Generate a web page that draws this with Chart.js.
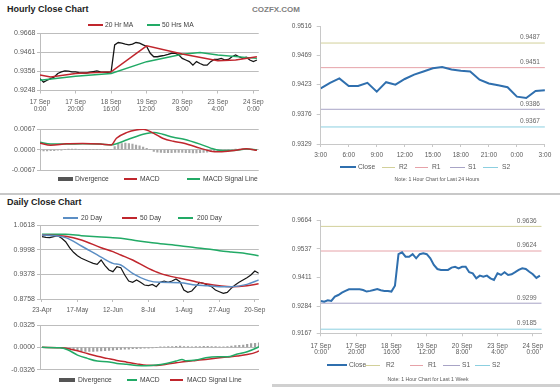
<!DOCTYPE html>
<html>
<head>
<meta charset="utf-8">
<script src="https://cdn.jsdelivr.net/npm/chart.js@4.4.1/dist/chart.umd.min.js"></script>
<style>
  body { margin: 0; background: #fff; width: 560px; height: 387px; overflow: hidden; position: relative;
         font-family: "Liberation Sans", Arial, sans-serif; }
  canvas, .t, .bar { position: absolute; }
  .t { white-space: nowrap; color: #404040; line-height: 1; }
</style>
</head>
<body>
<canvas id="c1" width="270" height="92" style="left:0;top:26px"></canvas>
<canvas id="c2" width="270" height="56" style="left:0;top:120px"></canvas>
<canvas id="c3" width="276" height="148" style="left:280px;top:14px"></canvas>
<canvas id="c4" width="270" height="102" style="left:0;top:214px"></canvas>
<canvas id="c5" width="270" height="60" style="left:0;top:316px"></canvas>
<canvas id="c6" width="276" height="150" style="left:280px;top:208px"></canvas>
<script>
// ---------- hourly close, last week (2-hour steps) ----------
const hourlyTickHours = [0, 20, 40, 60, 80, 100, 120];
const hourlyTickLabels = [['17 Sep', '0:00'], ['17 Sep', '20:00'], ['18 Sep', '16:00'], ['19 Sep', '12:00'],
                          ['20 Sep', '8:00'], ['23 Sep', '4:00'], ['24 Sep', '0:00']];
const hourlyPriceTicks = ['0.9248', '0.9356', '0.9461', '0.9668'];
const hourlyClose = [0.9313, 0.9294, 0.9304, 0.9313, 0.9322, 0.9341, 0.9350, 0.9355, 0.9354, 0.9350,
                     0.9350, 0.9346, 0.9344, 0.9344, 0.9348, 0.9352, 0.9355, 0.9350, 0.9348, 0.9348,
                     0.9350, 0.9498, 0.9511, 0.9507, 0.9502, 0.9498, 0.9502, 0.9511, 0.9507, 0.9498,
                     0.9489, 0.9452, 0.9433, 0.9433, 0.9437, 0.9441, 0.9446, 0.9452, 0.9452, 0.9443,
                     0.9424, 0.9415, 0.9406, 0.9387, 0.9406, 0.9396, 0.9387, 0.9387, 0.9406, 0.9418,
                     0.9418, 0.9424, 0.9415, 0.9418, 0.9433, 0.9443, 0.9433, 0.9424, 0.9430, 0.9415,
                     0.9406, 0.9415];
const ma20Hours = [0, 6, 20, 40, 60, 80, 100, 110, 122];
const ma20Hr = [0.9333, 0.9322, 0.9341, 0.9350, 0.9493, 0.9448, 0.9411, 0.9415, 0.9433];
const ma50Hours = [0, 20, 40, 60, 80, 90, 100, 122];
const ma50Hr = [0.9304, 0.9326, 0.9341, 0.9406, 0.9446, 0.9456, 0.9443, 0.9424];

const hourlyMacdTicks = ['-0.0067', '0.0000', '0.0067'];
const hourlyMacdHours = [0, 6, 15, 24, 34, 40, 43, 49, 54, 58, 64, 69, 75, 81, 90, 96, 101, 109, 116, 122];
const hourlyMacd = [0.0021, 0.0014, 0.0019, 0.0020, 0.0018, 0.0015, 0.0037, 0.0056, 0.0064, 0.0066,
                    0.0053, 0.0037, 0.0027, 0.0021, 0.0005, -0.0005, -0.0007, -0.0003, 0.0003, -0.0002];
const hourlySignalHours = [0, 6, 15, 24, 34, 40, 49, 58, 64, 69, 75, 81, 90, 96, 101, 109, 116, 122];
const hourlySignal = [0.0024, 0.0018, 0.0018, 0.0019, 0.0018, 0.0016, 0.0032, 0.0050, 0.0056, 0.0050,
                      0.0040, 0.0034, 0.0018, 0.0005, -0.0002, -0.0003, 0.0002, 0.0000];
const hourlyDivergence = [-0.0004, -0.0004, -0.0004, -0.0003, -0.0003, -0.0002, -0.0001, 0,
                          0.0001, 0.0001, 0.0001, 0, 0, 0, 0, 0, 0, 0, 0, 0, 0,
                          0.0010, 0.0017, 0.0020, 0.0021, 0.0020, 0.0018, 0.0015, 0.0012, 0.0008, 0.0004, 0,
                          -0.0006, -0.0008, -0.0009, -0.0010, -0.0010, -0.0010, -0.0009, -0.0009, -0.0009,
                          -0.0010, -0.0010, -0.0011, -0.0011, -0.0010, -0.0009, -0.0008, -0.0006, -0.0004,
                          -0.0003, -0.0002, -0.0001, 0, 0, 0.0001, 0.0001, 0.0001, 0, 0, 0, 0];

// ---------- last 24 hours ----------
const dayHourLabels = ['3:00', '6:00', '9:00', '12:00', '15:00', '18:00', '21:00', '0:00', '3:00'];
const dayPriceTicks = ['0.9329', '0.9376', '0.9423', '0.9469', '0.9516'];
const dayClose = [0.9417, 0.9426, 0.9433, 0.9421, 0.9421, 0.9426, 0.9412, 0.9427, 0.9423, 0.9432,
                  0.9439, 0.9444, 0.9449, 0.9451, 0.9447, 0.9445, 0.9444, 0.9431, 0.9425, 0.9422,
                  0.9419, 0.9404, 0.9402, 0.9413, 0.9414];
const dayLevels = [0.9489, 0.9450, 0.9384, 0.9356];          // R2, R1, S1, S2 as drawn
const dayLevelLabels = ['0.9487', '0.9451', '0.9386', '0.9367'];

// ---------- daily close (2-day steps) ----------
const dailyTickDays = [0, 18, 36, 54, 72, 90, 108];
const dailyTickLabels = ['23-Apr', '17-May', '12-Jun', '8-Jul', '1-Aug', '27-Aug', '20-Sep'];
const dailyPriceTicks = ['0.8758', '0.9378', '0.9998', '1.0618'];
const dailyClose = [1.0325, 1.0308, 1.0300, 1.0325, 1.0350, 1.0283, 1.0199, 1.0048, 0.9931, 0.9847,
                    0.9780, 0.9738, 0.9696, 0.9654, 0.9629, 0.9738, 0.9596, 0.9487, 0.9445, 0.9570,
                    0.9545, 0.9361, 0.9210, 0.9177, 0.9235, 0.9177, 0.9110, 0.9093, 0.9126, 0.9068,
                    0.9177, 0.9210, 0.9177, 0.9210, 0.9260, 0.9193, 0.8984, 0.8925, 0.8959, 0.9068,
                    0.9177, 0.9151, 0.9110, 0.9068, 0.8984, 0.8942, 0.8900, 0.8925, 0.9026, 0.9110,
                    0.9177, 0.9235, 0.9294, 0.9361, 0.9462, 0.9403];
const maDays = [0, 12, 20, 30, 36, 40, 46, 54, 60, 70, 78, 84, 90, 96, 104, 110];
const ma20Day = [1.0367, 1.0300, 1.0090, 0.9810, 0.9654, 0.9612, 0.9403, 0.9220, 0.9177, 0.9168,
                 0.9110, 0.9093, 0.9068, 0.9068, 0.9126, 0.9235];
const ma50Day = [1.0367, 1.0333, 1.0241, 1.0048, 0.9948, 0.9864, 0.9738, 0.9529, 0.9403, 0.9277,
                 0.9193, 0.9135, 0.9093, 0.9068, 0.9093, 0.9143];
const ma200Day = [1.0383, 1.0383, 1.0350, 1.0316, 1.0300, 1.0283, 1.0241, 1.0182, 1.0149, 1.0098,
                  1.0048, 1.0015, 0.9973, 0.9939, 0.9897, 0.9847];

const dailyMacdTicks = ['-0.0326', '0.0000', '0.0325'];
const dailyMacdDays = [0, 9, 13, 18, 23, 28, 33, 38, 43, 48, 53, 58, 63, 68, 71, 73, 78, 83, 89, 94, 99, 104, 109, 110];
const dailyMacd = [0, -0.0005, -0.0034, -0.0112, -0.0160, -0.0199, -0.0209, -0.0233, -0.0247, -0.0262,
                   -0.0267, -0.0257, -0.0233, -0.0199, -0.0175, -0.0194, -0.0184, -0.0150, -0.0136, -0.0136,
                   -0.0097, -0.0063, -0.0005, 0.0010];
const dailySignalDays = [0, 9, 13, 18, 23, 28, 33, 38, 43, 48, 53, 58, 63, 68, 73, 78, 83, 89, 94, 99, 104, 109, 110];
const dailySignal = [0, -0.0005, -0.0015, -0.0050, -0.0090, -0.0130, -0.0160, -0.0190, -0.0215, -0.0240,
                     -0.0260, -0.0262, -0.0245, -0.0225, -0.0205, -0.0190, -0.0175, -0.0155, -0.0140, -0.0125,
                     -0.0105, -0.0065, -0.0050];
const dailyDivergence = [0, 0, 0, 0, 0, 0,
                         -0.0010, -0.0020, -0.0035, -0.0045, -0.0055, -0.0060, -0.0060, -0.0060, -0.0055, -0.0050,
                         -0.0048, -0.0045, -0.0040, -0.0035, -0.0030, -0.0028, -0.0025, -0.0020, -0.0018, -0.0015,
                         -0.0012, -0.0010, -0.0005, 0, 0.0005, 0.0008, 0.0010, 0.0012, 0.0015, 0.0018,
                         0.0012, 0.0010, 0.0008, 0.0010, 0.0012, 0.0015, 0.0015, 0.0012, 0.0010, 0.0008,
                         0.0008, 0.0012, 0.0018, 0.0025, 0.0030, 0.0035, 0.0045, 0.0055, 0.0060, 0.0065];

// ---------- hourly close, last week (right panel, 2-hour steps) ----------
const weekPriceTicks = ['0.9167', '0.9284', '0.9411', '0.9537', '0.9664'];
const weekClose = [0.9309, 0.9306, 0.9312, 0.9309, 0.9328, 0.9335, 0.9345, 0.9353, 0.9360, 0.9360,
                   0.9360, 0.9360, 0.9357, 0.9350, 0.9353, 0.9357, 0.9361, 0.9356, 0.9353, 0.9353,
                   0.9350, 0.9376, 0.9514, 0.9522, 0.9503, 0.9503, 0.9514, 0.9496, 0.9514, 0.9518,
                   0.9514, 0.9496, 0.9467, 0.9449, 0.9445, 0.9445, 0.9445, 0.9455, 0.9459, 0.9452,
                   0.9459, 0.9459, 0.9435, 0.9430, 0.9408, 0.9420, 0.9415, 0.9420, 0.9408, 0.9401,
                   0.9430, 0.9423, 0.9435, 0.9423, 0.9426, 0.9435, 0.9445, 0.9452, 0.9449, 0.9437,
                   0.9426, 0.9410, 0.9420];
const weekLevels = [0.9636, 0.9528, 0.9299, 0.9185];
const weekLevelLabels = ['0.9636', '0.9624', '0.9299', '0.9185'];

// ---------- styling ----------
const RED = '#c0262d', GREEN = '#22aa66', BLUE = '#5b8ec4', BLACK = '#151515', CLOSE = '#2f6fae';
const LEVEL_COLORS = ['#d2d09a', '#e6a2a8', '#a8a4c6', '#8ccfe0'];
const GRID = '#bdbdbd', AXIS = '#c8c8c8';

Chart.defaults.font.family = '"Liberation Sans", Arial, sans-serif';
Chart.defaults.font.size = 6.5;
Chart.defaults.color = '#595959';

const xy = (xs, ys) => xs.map((x, i) => ({x, y: ys[i]}));
const stepped = (ys, step) => ys.map((y, i) => ({x: i * step, y}));
const even = (min, max, n) => Array.from({length: n}, (_, i) => min + i * (max - min) / (n - 1));

function line(data, color, width, extra) {
  return Object.assign({type: 'line', data, borderColor: color, backgroundColor: color,
    borderWidth: width, pointRadius: 0, fill: false, tension: 0}, extra || {});
}
function bars(data, color) {
  return {type: 'bar', data, backgroundColor: color, borderWidth: 0, barThickness: 1.5};
}

function axisX(o) {
  return {
    type: 'linear', min: o.min, max: o.max, offset: false, display: o.display !== false,
    afterBuildTicks: s => { s.ticks = o.at.map(v => ({value: v})); },
    afterFit: s => { if (o.h) s.height = o.h; },
    ticks: {autoSkip: false, maxRotation: 0, minRotation: 0, padding: o.pad || 0,
            font: {size: 6.5, lineHeight: o.lh || 1.1}, callback: (v, i) => o.labels[i]},
    grid: {drawOnChartArea: false, tickLength: 3, color: o.color || GRID},
    border: {color: o.color || GRID}
  };
}
function axisY(o) {
  return {
    type: 'linear', min: o.min, max: o.max,
    afterBuildTicks: s => { s.ticks = o.at.map(v => ({value: v})); },
    afterFit: s => { s.width = o.w; },
    ticks: {padding: o.pad, font: {size: o.size || 7}, callback: (v, i) => o.labels[i]},
    grid: {drawOnChartArea: o.grid, tickLength: o.tl, color: o.color || GRID},
    border: {color: o.color || GRID}
  };
}

const levelLabels = {
  id: 'levelLabels',
  afterDatasetsDraw(chart, args, opts) {
    const {ctx, chartArea, scales: {y}} = chart;
    ctx.save();
    ctx.font = '6.5px "Liberation Sans", Arial, sans-serif';
    ctx.fillStyle = '#666';
    ctx.textAlign = 'right';
    ctx.textBaseline = 'middle';
    opts.values.forEach((v, i) => ctx.fillText(opts.labels[i], chartArea.right - 5, y.getPixelForValue(v) - 5.5));
    ctx.restore();
  }
};

function make(id, padding, x, y, datasets, extraPlugins, pluginOpts) {
  return new Chart(document.getElementById(id), {
    type: 'line',
    data: {datasets},
    options: {
      responsive: false, animation: false, devicePixelRatio: 1,
      layout: {padding},
      scales: {x, y},
      plugins: Object.assign({legend: {display: false}, tooltip: {enabled: false}}, pluginOpts || {})
    },
    plugins: extraPlugins || []
  });
}

// 1. hourly close, left
make('c1', {left: 0, top: 7, right: 11.3, bottom: 0},
  axisX({min: 0, max: 123, at: hourlyTickHours, labels: hourlyTickLabels, h: 27.5, pad: 4.5, lh: 1.15}),
  axisY({min: 0.9248, max: 0.9563, at: even(0.9248, 0.9563, 4), labels: hourlyPriceTicks, w: 40, pad: 1.5, tl: 3, grid: true}),
  [line(xy(ma20Hours, ma20Hr), RED, 1.5),
   line(xy(ma50Hours, ma50Hr), GREEN, 1.5),
   line(stepped(hourlyClose, 2), BLACK, 1.3)]);

// 2. hourly MACD
make('c2', {left: 0, top: 9, right: 11.3, bottom: 5},
  axisX({min: 0, max: 123, at: hourlyTickHours, labels: hourlyTickLabels, display: false}),
  axisY({min: -0.0067, max: 0.0067, at: [-0.0067, 0, 0.0067], labels: hourlyMacdTicks, w: 40, pad: 1.5, tl: 3, grid: true}),
  [line(xy(hourlyMacdHours, hourlyMacd), RED, 1.5, {tension: 0.4, cubicInterpolationMode: 'monotone'}),
   line(xy(hourlySignalHours, hourlySignal), GREEN, 1.5, {tension: 0.4, cubicInterpolationMode: 'monotone'}),
   bars(stepped(hourlyDivergence, 2), '#a8a8a8')]);

// 3. last 24 hours with pivot levels
make('c3', {left: 0, top: 12, right: 11, bottom: 0},
  axisX({min: 0, max: 24, at: even(0, 24, 9), labels: dayHourLabels, h: 18, pad: 4.75, color: AXIS}),
  axisY({min: 0.9329, max: 0.9516, at: dayPriceTicks.map(Number), labels: dayPriceTicks, w: 40.7, pad: 5, tl: 4, grid: false, size: 6.5, color: AXIS}),
  [line(stepped(dayClose, 1), CLOSE, 2)].concat(
    dayLevels.map((v, i) => line(xy([0, 24], [v, v]), LEVEL_COLORS[i], 1))),
  [levelLabels], {levelLabels: {values: dayLevels, labels: dayLevelLabels}});

// 4. daily close with moving averages
make('c4', {left: 0, top: 11, right: 11, bottom: 0},
  axisX({min: -1, max: 110, at: dailyTickDays, labels: dailyTickLabels, h: 17, pad: 4.5}),
  axisY({min: 0.8758, max: 1.0618, at: even(0.8758, 1.0618, 4), labels: dailyPriceTicks, w: 40, pad: 2, tl: 3, grid: true}),
  [line(xy(maDays, ma20Day), BLUE, 1.5, {tension: 0.4, cubicInterpolationMode: 'monotone'}),
   line(xy(maDays, ma50Day), RED, 1.5, {tension: 0.4, cubicInterpolationMode: 'monotone'}),
   line(xy(maDays, ma200Day), GREEN, 1.5, {tension: 0.4, cubicInterpolationMode: 'monotone'}),
   line(stepped(dailyClose, 2), BLACK, 1.2)]);

// 5. daily MACD
make('c5', {left: 0, top: 9, right: 11, bottom: 5},
  axisX({min: -1, max: 110, at: dailyTickDays, labels: dailyTickLabels, display: false}),
  axisY({min: -0.0326, max: 0.0325, at: [-0.0326, 0, 0.0325], labels: dailyMacdTicks, w: 40, pad: 2, tl: 3, grid: true}),
  [line(xy(dailyMacdDays, dailyMacd), GREEN, 1.5, {tension: 0.4, cubicInterpolationMode: 'monotone'}),
   line(xy(dailySignalDays, dailySignal), RED, 1.5, {tension: 0.4, cubicInterpolationMode: 'monotone'}),
   bars(stepped(dailyDivergence, 2), '#a0a0a0')]);

// 6. last week with pivot levels
make('c6', {left: 0, top: 12, right: 14.3, bottom: 0},
  axisX({min: 0, max: 125, at: hourlyTickHours, labels: hourlyTickLabels, h: 24.7, pad: 6.5, lh: 0.95, color: AXIS}),
  axisY({min: 0.9167, max: 0.9664, at: weekPriceTicks.map(Number), labels: weekPriceTicks, w: 40.7, pad: 5, tl: 4, grid: false, size: 6.5, color: AXIS}),
  [line(stepped(weekClose, 2), CLOSE, 2)].concat(
    weekLevels.map((v, i) => line(xy([0, 125], [v, v]), LEVEL_COLORS[i], 1))),
  [levelLabels], {levelLabels: {values: weekLevels, labels: weekLevelLabels}});

// ---------- titles, legends, notes ----------
function text(str, x, y, o) {
  o = o || {};
  const d = document.createElement('div');
  d.className = 't';
  d.textContent = str;
  const size = o.size || 6.7;
  d.style.left = x + 'px';
  d.style.top = (y - size / 2) + 'px';
  d.style.fontSize = size + 'px';
  if (o.bold) d.style.fontWeight = 'bold';
  if (o.color) d.style.color = o.color;
  if (o.center) d.style.transform = 'translateX(-50%)';
  document.body.appendChild(d);
}
function rect(x1, x2, y, h, color) {
  const d = document.createElement('div');
  d.className = 'bar';
  Object.assign(d.style, {left: x1 + 'px', width: (x2 - x1) + 'px', top: (y - h / 2) + 'px', height: h + 'px', background: color});
  document.body.appendChild(d);
}
function item(x1, x2, y, color, label, tx, h, tc) {
  rect(x1, x2, y, h || 1.5, color);
  text(label, tx, y, {color: tc});
}

text('Hourly Close Chart', 7, 9, {size: 9, bold: true, color: '#222'});
text('COZFX.COM', 252, 10, {size: 8, bold: true, color: '#808080'});
text('Daily Close Chart', 7, 202, {size: 9, bold: true, color: '#222'});
rect(0, 560, 194, 2, '#c8c8c8');
rect(272, 560, 385.5, 3, '#d0d0d0');

item(88, 103, 25, RED, '20 Hr MA', 105);
item(147, 160, 25, GREEN, '50 Hrs MA', 162);

item(58, 73, 179, '#555', 'Divergence', 75, 4);
item(124, 137, 179, RED, 'MACD', 140);
item(187, 200, 179, GREEN, 'MACD Signal Line', 203);

item(340, 356, 167, CLOSE, 'Close', 358, 1.5, '#595959');
item(382, 395, 167, LEVEL_COLORS[0], 'R2', 399, 1, '#595959');
item(415, 428, 167, LEVEL_COLORS[1], 'R1', 432, 1, '#595959');
item(450, 465, 167, LEVEL_COLORS[2], 'S1', 468, 1, '#595959');
item(483, 498, 167, LEVEL_COLORS[3], 'S2', 502, 1, '#595959');
text('Note: 1 Hour Chart for Last 24 Hours', 437, 180, {size: 5.2, center: true, color: '#595959'});

item(63, 78, 218, BLUE, '20 Day', 81);
item(122, 137, 218, RED, '50 Day', 140);
item(178, 193, 218, GREEN, '200 Day', 197);

item(59, 75, 380, '#555', 'Divergence', 78, 4);
item(127, 137, 380, GREEN, 'MACD', 140);
item(170, 183, 380, RED, 'MACD Signal Line', 187);

item(327, 347, 365, CLOSE, 'Close', 349, 1.5, '#595959');
item(365, 380, 365, LEVEL_COLORS[0], 'R2', 386, 1, '#595959');
item(410, 423, 365, LEVEL_COLORS[1], 'R1', 428, 1, '#595959');
item(443, 460, 365, LEVEL_COLORS[2], 'S1', 462, 1, '#595959');
item(475, 490, 365, LEVEL_COLORS[3], 'S2', 492, 1, '#595959');
text('Note: 1 Hour Chart for Last 1 Week', 428, 380, {size: 5.2, center: true, color: '#595959'});
</script>
</body>
</html>
